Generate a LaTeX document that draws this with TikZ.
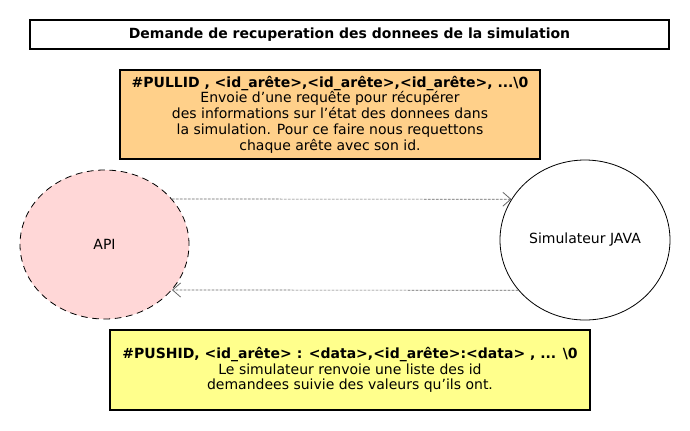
\documentclass[tikz,border=0pt]{standalone}
\usepackage{fontspec}
\setmainfont{DejaVu Sans}
\usetikzlibrary{shapes.geometric,arrows.meta}

\definecolor{pullfill}{RGB}{255,208,138}
\definecolor{pushfill}{RGB}{255,255,140}
\definecolor{apifill}{RGB}{255,215,215}

\tikzset{
	box/.style={draw, rectangle, line width=0.8pt, align=center, inner sep=0pt,
		font=\fontsize{10.5}{11.8}\selectfont},
	actor/.style={draw, ellipse, line width=0.6pt, inner sep=0pt,
		font=\fontsize{10.5}{11.8}\selectfont},
	msg/.style={draw=black!60, line width=0.5pt, dash pattern=on 2pt off 1pt,
		-{Straight Barb[length=6pt,width=10.5pt,line width=0.6pt]}},
}

\begin{document}
\begin{tikzpicture}[x=0.75pt, y=-0.75pt]
	\useasboundingbox (0,0) rectangle (690,430);
	\node[box, minimum width=479.25pt, minimum height=21.75pt] (title) at (349.5, 34.5)
		{\textbf{Demande de recuperation des donnees de la simulation}};
	\node[box, fill=pullfill, minimum width=315pt, minimum height=66.75pt] (pull) at (330, 114.5)
		{\textbf{\#PULLID , <id\_arête>,<id\_arête>,<id\_arête>, ...\textbackslash0}\\
		Envoie d’une requête pour récupérer\\
		des informations sur l’état des donnees dans\\
		la simulation. Pour ce faire nous requettons\\
		chaque arête avec son id.};
	\node[actor, fill=apifill, dash pattern=on 5pt off 3.5pt, minimum width=126.75pt, minimum height=111.75pt] (api) at (104.5, 244.5) {API};
	\node[actor, minimum width=127.5pt, minimum height=120pt] (sim) at (585, 240) {Simulateur JAVA};
	\node[box, fill=pushfill, minimum width=360pt, minimum height=60pt] (push) at (350, 370)
		{\textbf{\#PUSHID, <id\_arête> : <data>,<id\_arête>:<data> , ... \textbackslash0}\\
		Le simulateur renvoie une liste des id\\
		demandees suivie des valeurs qu’ils ont.};
	 \draw[msg] (api.34) -- (sim.151.5);
	 \draw[msg] (sim.217.4) -- (api.-34.7);
\end{tikzpicture}
\end{document}
